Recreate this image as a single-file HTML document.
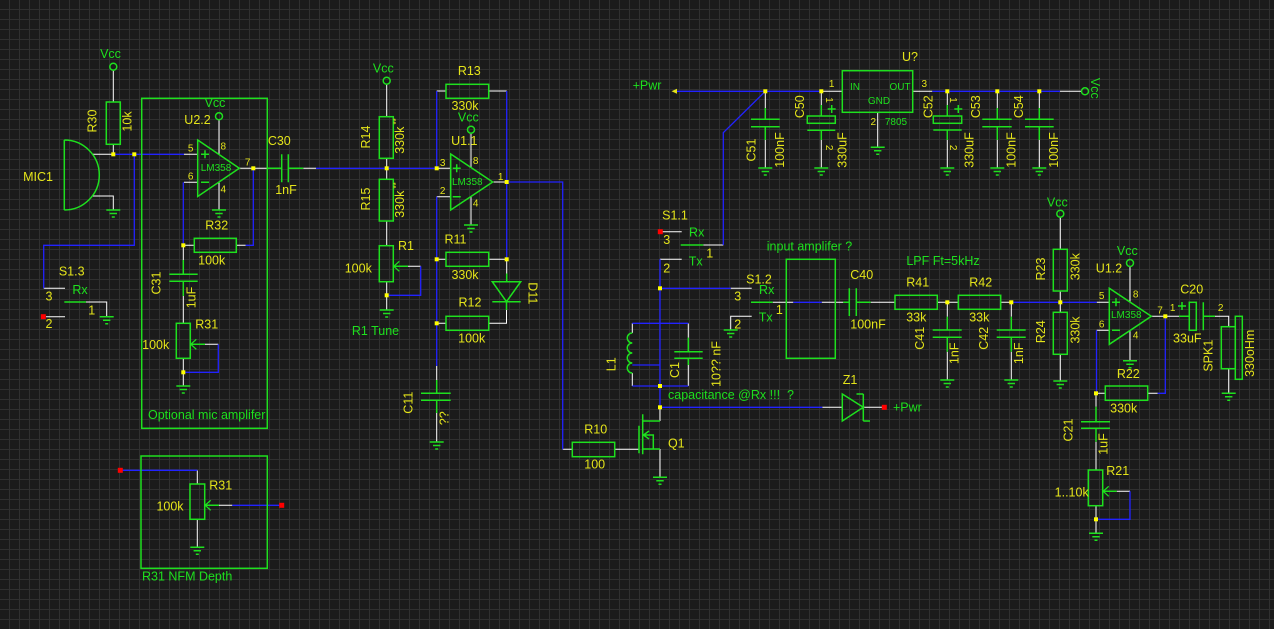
<!DOCTYPE html>
<html><head><meta charset="utf-8"><style>
html,body{margin:0;padding:0;background:#1b1b1b;}
svg{display:block;}
.w{stroke:#fff;stroke-width:1;fill:none}
.b{stroke:#2222ff;stroke-width:1.3;fill:none}
.g{stroke:#1ee01e;stroke-width:1.5;fill:none}
text{font-family:"Liberation Sans",Arial,sans-serif;text-anchor:middle;dominant-baseline:central}
.ty{fill:#e4e41a;font-size:12.5px}
.tg{fill:#1ee01e;font-size:12.5px}
.p{fill:#e4e41a;font-size:10px}
.s{fill:#1ee01e;font-size:10px}
.st{text-anchor:start}
</style></head><body>
<svg width="1274" height="629" viewBox="0 0 1274 629" xmlns="http://www.w3.org/2000/svg">
<defs>
<pattern id="grid" width="10" height="10" patternUnits="userSpaceOnUse"><path d="M9.5,0V10M0,9.5H10" stroke="#303030" stroke-width="1" fill="none"/></pattern>
<g id="gnd"><path d="M-7,0H7M-3.7,3.5H3.7M-1.5,7H1.5" stroke="#1ee01e" stroke-width="1.5" fill="none"/></g>
<rect id="j" x="-2" y="-2" width="4" height="4" fill="#ffff00"/>
<rect id="red" x="-2.5" y="-2.5" width="5" height="5" fill="#ff0000"/>
<path id="wip" d="M6,-5L0.5,0L6,5" stroke="#1ee01e" stroke-width="1.3" fill="none"/>
</defs>
<rect width="1274" height="629" fill="#1b1b1b"/>
<rect width="1274" height="629" fill="url(#grid)"/>

<!-- white leads -->
<path class="w" d="M113.3,70.2V102M113.3,144.3V154.3M92,154.3H113.3M92,196H113.3V210
M184,154.3H197.7M184,182.3H197.7M219,119.8V154M219,182.5V210M239.3,168.3H267.3M303.3,168.3H316
M245.7,245.3H236.3M194.3,245.3H183.3M183.3,245.3V260M183.3,296V323.3
M43.7,288.3H65M86,302H106.7V316.7M46,316.7H65M205,344.3H218.3M183.3,358.3V386
M197.3,470.3V484M219,505.3H232.3M197.3,519.3V547.3
M386.7,84.2V116.7M386.7,158.3V179.3M386.7,221V245.7M386.7,281.7V310M408,266.3H420.7
M436.7,168.3H450.7M436.7,196.7H450.7M471,133.2V167.5M471,196.5V225M492.7,182H506.7
M436.7,91H446M488.7,91H506.7M436.7,259.3H446M488.7,259.3H506.7M506.7,259.3V273.5M506.5,310V323.3H488.7M436.7,323.3H446
M436.7,366V380M436.7,413V442
M562.7,449.3H572.3M614.7,449.3H639M660,421V407.3M660,449V477.3
M822.3,407.3H842.3M863.3,407.3H882
M660,259.3H681.7M632.3,323.3V333M632.3,373V386M688.3,323.3V337.7M688.3,365V386
M660.3,231.7H681.7M703.3,245H723.3
M730.7,288.3H751.7M772.7,302.3H793.3M821.7,302.3H843.3M751.7,316.3H730.7V330
M870.7,302.3H895M937.3,302.3H958.3M1000.7,302.3H1011.3
M947.3,302.3V316.7M947.3,351.7V380M1011.3,302.3V316.7M1011.3,351.7V380
M1060.3,217.2V249.3M1060.3,291V312.3M1060.3,354.3V381
M1096.7,302.3H1109.3M1096.7,330.3H1109.3M1130,266.5V302M1130,330.5V360.7
M1151.3,316.3H1179M1215,316.3H1228.7V326.7M1228.7,368.7V393.3
M1157.7,393.3H1147.7M1105.3,393.3H1096M1096,393.3V406.7M1096,441.7V470M1116.7,491.3H1130M1096,505.7V533.3
M821.3,91.3H842.3M877.7,112.3V147.3
M765.3,91.3V108M765.3,140V168M821.3,91.3V105M821.3,140V168
M912.7,91.3H932.3M1060,91.3H1081.5
M947.3,91.3V105M947.3,140V168M997.3,91.3V108M997.3,140V168M1039.3,91.3V108M1039.3,140V168"/>

<!-- blue wires -->
<path class="b" d="M113.3,154.3H184M134.3,154.3V245.3H43.7V288.3
M253.3,168.3V245.3H245.7M183.3,182.3V245.3M218.3,344.3V372.3H183.3
M120.3,470.3H197.3M232.3,505.3H281.7
M316,168.3H436.7M420.7,266.3V295.3H386.7
M436.7,91V168.3M506.7,91V259.3M436.7,196.7V366
M506.7,182H562.7V449.3
M660,259.3V407.3H822.3
M632.3,323.3H688.3M632.3,386H688.3M632.3,365H660
M723.3,245V132.7L765.3,91.3
M660,288.3H730.7M793.3,302.3H821.7
M1011.3,302.3H1096.7
M1096.5,330.3V393.3M1165.3,316.3V393.3H1157.7
M1130,491.3V519.3H1096
M674.3,91.3H821.3M932.3,91.3H1060"/>

<!-- green components -->
<path class="g" d="M64.3,140V210M64.3,140A35,35 0 0 1 64.3,210
M267.3,168.3H281.7M281.7,154.3V182.3M288.3,154.3V182.3M288.3,168.3H303.3
M183.3,260V274.3M169.3,274.3H197.7M169.3,281.3H197.7M183.3,281.3V296
M64.3,302H86
M190.3,344.3H205M204.7,505.3H219M393.3,266.3H408
M506.7,273.5V281.7M492.3,281.7H520.7L506.5,301.7ZM492.3,301.7H520.7M506.5,301.7V310
M436.7,380V393.3M421,393.3H450.7M421,400.3H450.7M436.7,400.3V413
M639,425.7V453.3M642.7,414.3V454.3M642.7,421H660M642.7,449H660M643,435H653.3V449M649,431L643.5,435L649,439
M842.3,394L863.3,407.3L842.3,421ZM863.3,394V421M856.5,394H863.3M863.3,421H870
M632.3,333a5,5 0 0 0 0,10a5,5 0 0 0 0,10a5,5 0 0 0 0,10a5,5 0 0 0 0,10
M688.3,337.7V351.7M674.3,351.7H702.7M674.3,358.3H702.7M688.3,358.3V365
M680.7,245H703.3M751,302.3H772.7
M843.3,302.3H849.3M849.3,288.3V316M856.3,288.3V316M856.3,302.3H870.7
M947.3,316.7V330M932.7,330H961.7M932.7,337.3H961.7M947.3,337.3V351.7
M1011.3,316.7V330M996.7,330H1025.7M996.7,337.3H1025.7M1011.3,337.3V351.7
M1179,316.3H1189.3M1203.3,302.3V330.3M1203.3,316.3H1215M1178,306H1186M1182,302V310
M1096,406.7V421.7M1081,421.7H1110M1081,428.3H1110M1096,428.3V441.7
M1102.7,491.3H1116.7
M765.3,108V119.3M751,119.3H779.7M751,126.7H779.7M765.3,126.7V140
M821.3,105V116M807.3,130.3H835.3M821.3,130.3V140M827.7,109H835.7M831.7,105V113
M947.3,105V116M933.3,130H961.7M947.3,130V140M954.3,109H962.3M958.3,105V113
M997.3,108V119.3M982.3,119.3H1011.7M982.3,126.7H1011.7M997.3,126.7V140
M1039.3,108V119.3M1025,119.3H1053.7M1025,126.7H1053.7M1039.3,126.7V140
M201,154.3H209M205,150.3V158.3M201,182.3H209
M452.7,168.3H460.7M456.7,164.3V172.3M452.7,196.7H460.7
M1112,302.3H1120M1116,298.3V306.3M1112,330.3H1120"/>
<g class="g">
<polygon points="197.7,140 239.3,168.3 197.7,196.5"/>
<polygon points="450.7,154 492.7,182 450.7,210"/>
<polygon points="1109.3,288.3 1151.3,316.3 1109.3,344.3"/>
<rect x="106.3" y="102" width="14" height="42.3"/>
<rect x="194.3" y="238.3" width="42" height="14"/>
<rect x="176.3" y="323.3" width="14" height="35"/>
<rect x="190" y="484" width="14.7" height="35.3"/>
<rect x="379.3" y="116.7" width="14" height="41.6"/>
<rect x="379.3" y="179.3" width="14" height="41.7"/>
<rect x="379.3" y="245.7" width="14" height="36"/>
<rect x="446" y="84.3" width="42.7" height="14"/>
<rect x="446" y="252.3" width="42.7" height="14"/>
<rect x="446" y="316.3" width="42.7" height="14"/>
<rect x="572.3" y="442.3" width="42.4" height="14.4"/>
<rect x="786.3" y="259.3" width="49" height="99"/>
<rect x="895" y="295.3" width="42.3" height="14"/>
<rect x="958.3" y="295.3" width="42.4" height="14"/>
<rect x="1053.3" y="249.3" width="14" height="41.7"/>
<rect x="1053.3" y="312.3" width="14" height="42"/>
<rect x="1105.3" y="386" width="42.4" height="14.3"/>
<rect x="1088.3" y="470" width="14.4" height="35.7"/>
<rect x="1221.3" y="326.7" width="14" height="42"/>
<rect x="1235.3" y="316.3" width="7" height="63"/>
<rect x="1189.3" y="302.3" width="7" height="28"/>
<rect x="807.3" y="116" width="28" height="7.3"/>
<rect x="933.3" y="116" width="28.4" height="7.3"/>
<rect x="842.3" y="70.7" width="70.4" height="41.6"/>
<rect x="141.7" y="98.3" width="125.6" height="330"/>
<rect x="141" y="456" width="126.3" height="112.3"/>
<circle cx="113.3" cy="66.7" r="3.5"/>
<circle cx="219" cy="116.3" r="3.5"/>
<circle cx="386.7" cy="80.7" r="3.5"/>
<circle cx="471" cy="129.7" r="3.5"/>
<circle cx="1060.3" cy="213.7" r="3.5"/>
<circle cx="1130" cy="263" r="3.5"/>
<circle cx="1085" cy="91.3" r="3.5"/>
</g>
<use href="#wip" x="190.3" y="344.3"/>
<use href="#wip" x="204.7" y="505.3"/>
<use href="#wip" x="393.3" y="266.3"/>
<use href="#wip" x="1102.7" y="491.3"/>
<polygon points="671.5,91.3 677,88.8 677,93.8" fill="#e4e41a"/>

<!-- grounds -->
<use href="#gnd" x="113.3" y="210"/>
<use href="#gnd" x="219" y="210"/>
<use href="#gnd" x="106.7" y="316.7"/>
<use href="#gnd" x="183.3" y="386"/>
<use href="#gnd" x="197.3" y="547.3"/>
<use href="#gnd" x="386.7" y="310"/>
<use href="#gnd" x="471" y="225"/>
<use href="#gnd" x="436.7" y="442"/>
<use href="#gnd" x="660" y="477.3"/>
<use href="#gnd" x="730.7" y="330"/>
<use href="#gnd" x="947.3" y="380"/>
<use href="#gnd" x="1011.3" y="380"/>
<use href="#gnd" x="1060.3" y="381"/>
<use href="#gnd" x="1130" y="360.7"/>
<use href="#gnd" x="1228.7" y="393.3"/>
<use href="#gnd" x="1096" y="533.3"/>
<use href="#gnd" x="877.7" y="147.3"/>
<use href="#gnd" x="765.3" y="168"/>
<use href="#gnd" x="821.3" y="168"/>
<use href="#gnd" x="947.3" y="168"/>
<use href="#gnd" x="997.3" y="168"/>
<use href="#gnd" x="1039.3" y="168"/>

<!-- junctions -->
<use href="#j" x="113.3" y="154.3"/>
<use href="#j" x="134.3" y="154.3"/>
<use href="#j" x="253.3" y="168.3"/>
<use href="#j" x="183.3" y="245.3"/>
<use href="#j" x="183.3" y="372.3"/>
<use href="#j" x="386.7" y="168.3"/>
<use href="#j" x="386.7" y="295.3"/>
<use href="#j" x="436.7" y="168.3"/>
<use href="#j" x="506.7" y="182"/>
<use href="#j" x="436.7" y="259.3"/>
<use href="#j" x="506.7" y="259.3"/>
<use href="#j" x="436.7" y="323.3"/>
<use href="#j" x="660" y="407.3"/>
<use href="#j" x="660" y="386"/>
<use href="#j" x="660" y="288.3"/>
<use href="#j" x="947.3" y="302.3"/>
<use href="#j" x="1011.3" y="302.3"/>
<use href="#j" x="1060.3" y="302.3"/>
<use href="#j" x="1165.3" y="316.3"/>
<use href="#j" x="1096" y="393.3"/>
<use href="#j" x="1096" y="519.3"/>
<use href="#j" x="765.3" y="91.3"/>
<use href="#j" x="821.3" y="91.3"/>
<use href="#j" x="947.3" y="91.3"/>
<use href="#j" x="997.3" y="91.3"/>
<use href="#j" x="1039.3" y="91.3"/>

<!-- red terminals -->
<use href="#red" x="43.3" y="316.7"/>
<use href="#red" x="120.3" y="470.3"/>
<use href="#red" x="281.7" y="505.3"/>
<use href="#red" x="660.3" y="231.7"/>
<use href="#red" x="884.3" y="407.3"/>

<!-- yellow labels -->
<g class="ty">
<text x="38" y="177">MIC1</text>
<text transform="translate(92.7,121) rotate(-90)">R30</text>
<text transform="translate(127.7,121.5) rotate(-90)">10k</text>
<text x="197.5" y="120">U2.2</text>
<text x="279.3" y="141">C30</text>
<text x="286" y="190">1nF</text>
<text x="216.7" y="225.7">R32</text>
<text x="211.7" y="260.7">100k</text>
<text x="71.7" y="271.7">S1.3</text>
<text x="49" y="296.7">3</text>
<text x="91.7" y="310.7">1</text>
<text x="49" y="324">2</text>
<text transform="translate(156.7,283) rotate(-90)">C31</text>
<text transform="translate(191.7,297.5) rotate(-90)">1uF</text>
<text x="206.7" y="324.3">R31</text>
<text x="155.7" y="345">100k</text>
<text x="220.7" y="485.7">R31</text>
<text x="170" y="506.7">100k</text>
<text transform="translate(366,137) rotate(-90)">R14</text>
<text transform="translate(400,136) rotate(-90)">330k<tspan font-size="8" dy="-4"> **</tspan></text>
<text transform="translate(366,199) rotate(-90)">R15</text>
<text transform="translate(400,200) rotate(-90)">330k<tspan font-size="8" dy="-4"> **</tspan></text>
<text x="406" y="246">R1</text>
<text x="358.3" y="268.3">100k</text>
<text x="469.3" y="71">R13</text>
<text x="465" y="106">330k</text>
<text x="464.3" y="141">U1.1</text>
<text x="455.5" y="239.3">R11</text>
<text x="465" y="275">330k</text>
<text x="470" y="302.7">R12</text>
<text x="471.7" y="338.3">100k</text>
<text transform="translate(532.3,293.3) rotate(90)">D11</text>
<text transform="translate(408.3,402.7) rotate(-90)">C11</text>
<text transform="translate(444.3,418.3) rotate(-90)">??</text>
<text x="595.7" y="429.3">R10</text>
<text x="594.7" y="464.3">100</text>
<text x="676.3" y="443.3">Q1</text>
<text x="850" y="380">Z1</text>
<text transform="translate(611.7,364.3) rotate(-90)">L1</text>
<text transform="translate(675,370) rotate(-90)">C1</text>
<text transform="translate(716.7,364) rotate(-90)">10?? nF</text>
<text x="675" y="215.7">S1.1</text>
<text x="666.7" y="240">3</text>
<text x="709.7" y="253.3">1</text>
<text x="666.7" y="268.3">2</text>
<text x="759" y="279.3">S1.2</text>
<text x="737.7" y="296.7">3</text>
<text x="779.3" y="310">1</text>
<text x="737.7" y="324.3">2</text>
<text x="861.7" y="275">C40</text>
<text x="868" y="324.3">100nF</text>
<text x="917.7" y="282.3">R41</text>
<text x="916.3" y="317.7">33k</text>
<text x="980.7" y="282.3">R42</text>
<text x="979.3" y="317.7">33k</text>
<text transform="translate(920,338.3) rotate(-90)">C41</text>
<text transform="translate(954.3,353.3) rotate(-90)">1nF</text>
<text transform="translate(984,338.3) rotate(-90)">C42</text>
<text transform="translate(1019,353.3) rotate(-90)">1nF</text>
<text transform="translate(1041,269) rotate(-90)">R23</text>
<text transform="translate(1075.7,266.7) rotate(-90)">330k</text>
<text transform="translate(1041,331.7) rotate(-90)">R24</text>
<text transform="translate(1075.7,330) rotate(-90)">330k</text>
<text x="1109" y="268.3">U1.2</text>
<text x="1191.7" y="289.3">C20</text>
<text x="1187.3" y="338.3">33uF</text>
<text transform="translate(1208.3,355.7) rotate(-90)">SPK1</text>
<text transform="translate(1250,353.3) rotate(-90)">330oHm</text>
<text x="1128.3" y="374">R22</text>
<text x="1123.7" y="408.3">330k</text>
<text transform="translate(1068.3,430) rotate(-90)">C21</text>
<text transform="translate(1103.3,444) rotate(-90)">1uF</text>
<text x="1117.7" y="471">R21</text>
<text x="1071.7" y="492.3">1..10k</text>
<text x="910" y="57">U?</text>
<text transform="translate(751.7,150) rotate(-90)">C51</text>
<text transform="translate(780,150) rotate(-90)">100nF</text>
<text transform="translate(800,106.7) rotate(-90)">C50</text>
<text transform="translate(842.7,150) rotate(-90)">330uF</text>
<text transform="translate(928.3,106.7) rotate(-90)">C52</text>
<text transform="translate(969.3,150) rotate(-90)">330uF</text>
<text transform="translate(976,106.7) rotate(-90)">C53</text>
<text transform="translate(1011.7,150) rotate(-90)">100nF</text>
<text transform="translate(1019,106.7) rotate(-90)">C54</text>
<text transform="translate(1054,150) rotate(-90)">100nF</text>
</g>

<!-- pin numbers -->
<g class="p">
<text x="190.7" y="149">5</text>
<text x="190.7" y="177">6</text>
<text x="223.3" y="147">8</text>
<text x="223.3" y="190">4</text>
<text x="247.7" y="163">7</text>
<text x="442.7" y="163.3">3</text>
<text x="442.7" y="191.7">2</text>
<text x="475.7" y="161.7">8</text>
<text x="475.7" y="204">4</text>
<text x="500.7" y="177.7">1</text>
<text x="1101.7" y="296.7">5</text>
<text x="1101.7" y="325">6</text>
<text x="1135.7" y="295">8</text>
<text x="1135.7" y="336">4</text>
<text x="1160" y="311">7</text>
<text x="1172.7" y="308.3">1</text>
<text x="1220.7" y="308.3">2</text>
<text x="831.7" y="84.3">1</text>
<text x="873.3" y="122.7">2</text>
<text x="924.3" y="84.3">3</text>
<text transform="translate(828.7,100) rotate(90)">1</text>
<text transform="translate(828.7,147.7) rotate(90)">2</text>
<text transform="translate(952.7,100) rotate(90)">1</text>
<text transform="translate(952.7,147.7) rotate(90)">2</text>
</g>

<!-- green small text -->
<g class="s">
<text x="216" y="168.5">LM358</text>
<text x="467.3" y="182.7">LM358</text>
<text x="1126.3" y="315.7">LM358</text>
<text x="855" y="87.3">IN</text>
<text x="900" y="87.3">OUT</text>
<text x="879" y="101.7">GND</text>
<text x="896" y="122.7">7805</text>
</g>

<!-- green labels -->
<g class="tg">
<text x="110.5" y="54">Vcc</text>
<text x="215" y="103">Vcc</text>
<text x="383.3" y="68.3">Vcc</text>
<text x="468.3" y="117.3">Vcc</text>
<text x="1057.3" y="202.3">Vcc</text>
<text x="1127.3" y="251">Vcc</text>
<text transform="translate(1095,88.3) rotate(90)">Vcc</text>
<text x="80" y="290">Rx</text>
<text x="696.7" y="232.3">Rx</text>
<text x="695.7" y="261.7">Tx</text>
<text x="766.7" y="290">Rx</text>
<text x="765.7" y="317.3">Tx</text>
<text class="st" x="148" y="415">Optional mic amplifer</text>
<text class="st" x="142" y="576.7">R31 NFM Depth</text>
<text x="375.5" y="331">R1 Tune</text>
<text x="647" y="85.7">+Pwr</text>
<text class="st" x="893" y="407.3">+Pwr</text>
<text x="809.5" y="246.7">input amplifer ?</text>
<text class="st" x="668" y="395" style="white-space:pre">capacitance @Rx !!!  ?</text>
<text x="943" y="261">LPF Ft=5kHz</text>
</g>
</svg>
</body></html>
